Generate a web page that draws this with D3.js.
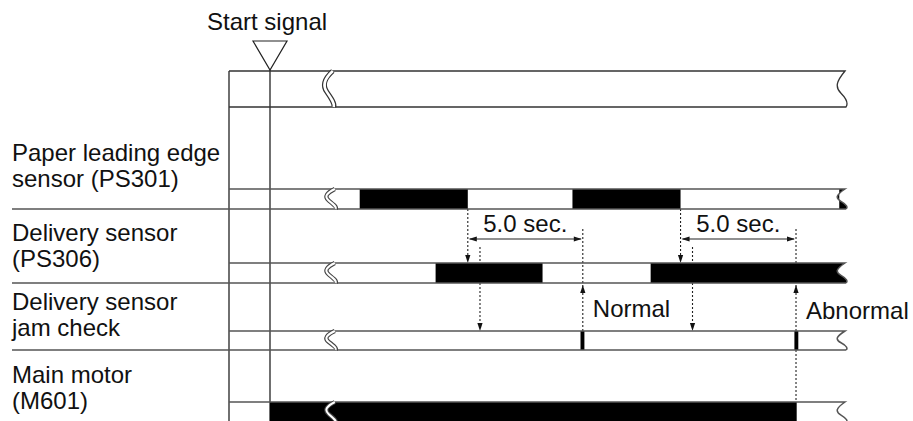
<!DOCTYPE html>
<html><head><meta charset="utf-8">
<script src="https://cdn.jsdelivr.net/npm/d3@7"></script>
<style>body{margin:0;background:#fff}svg{display:block}text{font-family:"Liberation Sans",Arial,Helvetica,sans-serif;fill:#111}</style>
</head><body>
<script>
// ---- data (time in seconds from start signal) ----
const signalLabels = [
  ["Paper leading edge", "sensor (PS301)"],
  ["Delivery sensor", "(PS306)"],
  ["Delivery sensor", "jam check"],
  ["Main motor", "(M601)"]
];
const ps301On = [[3.9, 8.6], [13.15, 17.85], [24.75, 25]];
const ps306On = [[7.2, 11.85], [16.55, 25]];
const jamPulse = [[13.5, 13.67], [22.8, 22.97]];
const motorOn = [[0, 22.9]];
const checkFrom = [8.6, 17.85];      // PS301 trailing edge
const checkStart = [9.13, 18.37];    // jam check begins
const checkLimit = [13.6, 22.87];    // 5.0 s later
const checkResult = ["Normal", "Abnormal"];
const dimLabel = "5.0 sec.";
const breakTime = 2.6;
const timeDomain = [0, 25];

// ---- layout ----
const W = 913, H = 421, FS = 24;
const svg = d3.select("body").append("svg").attr("width", W).attr("height", H);
const x = d3.scaleLinear().domain(timeDomain).range([270, 845]);
const xEnd = x(timeDomain[1]);
const xLeft = 229;
const rows = [
  {y0: 189, y1: 209, on: ps301On},
  {y0: 263, y1: 283, on: ps306On},
  {y0: 331, y1: 350, on: jamPulse},
  {y0: 402, y1: 423, on: motorOn}
];
const lineCol = "#555";

function endCurve(xe, y0, y1) {
  const h = y1 - y0;
  return `C${xe-9},${y0+0.3*h} ${xe-10},${y0+0.45*h} ${xe-4},${y0+0.62*h} S${xe+3},${y1-0.08*h} ${xe+1},${y1}`;
}
function breakPath(xb, y0, y1) {
  const h = y1 - y0;
  return `M${xb+5},${y0} C${xb-3},${y0+0.2*h} ${xb-6},${y0+0.38*h} ${xb-1},${y0+0.58*h} S${xb+7},${y1-0.1*h} ${xb+6},${y1}`;
}

// vertical frame lines
svg.append("line").attr("x1", xLeft).attr("x2", xLeft).attr("y1", 71).attr("y2", H)
  .attr("stroke", "#222").attr("stroke-width", 1.3);
svg.append("line").attr("x1", x(0)).attr("x2", x(0)).attr("y1", 70).attr("y2", H)
  .attr("stroke", "#222").attr("stroke-width", 1.3);

// start signal row
const topY0 = 71, topY1 = 107;
svg.append("path")
  .attr("d", `M${xLeft},${topY0} L${xEnd},${topY0} ${endCurve(xEnd, topY0, topY1)} L${xLeft},${topY1}`)
  .attr("fill", "none").attr("stroke", "#333").attr("stroke-width", 1.3);
svg.append("path").attr("d", breakPath(x(breakTime) - 2, topY0, topY1))
  .attr("fill", "none").attr("stroke", "#333").attr("stroke-width", 5);
svg.append("path").attr("d", breakPath(x(breakTime) - 2, topY0, topY1))
  .attr("fill", "none").attr("stroke", "#fff").attr("stroke-width", 2.6);
// triangle
const tx = x(0);
svg.append("path").attr("d", `M${tx-17},41 L${tx+17},41 L${tx},70 Z`)
  .attr("fill", "#fff").attr("stroke", "#222").attr("stroke-width", 1.2);
svg.append("text").attr("x", 207).attr("y", 30).attr("font-size", FS).text("Start signal");

// dotted lines and arrows (drawn under bars)
const dot = svg.append("g").attr("stroke", "#222").attr("stroke-width", 1.1).attr("stroke-dasharray", "2,2").attr("fill", "none");
const arr = svg.append("g").attr("fill", "#111");
function arrowDown(xx, ytip) { arr.append("path").attr("d", `M${xx},${ytip} L${xx-2.6},${ytip-8} L${xx+2.6},${ytip-8} Z`); }
function arrowUp(xx, ytip) { arr.append("path").attr("d", `M${xx},${ytip} L${xx-2.6},${ytip+8} L${xx+2.6},${ytip+8} Z`); }
function arrowLeft(xx, y) { arr.append("path").attr("d", `M${xx},${y} L${xx+8},${y-2.6} L${xx+8},${y+2.6} Z`); }
function arrowRight(xx, y) { arr.append("path").attr("d", `M${xx},${y} L${xx-8},${y-2.6} L${xx-8},${y+2.6} Z`); }

const dimY = 239;
checkFrom.forEach((t, i) => {
  const xa = x(t), xs = x(checkStart[i]), xl = x(checkLimit[i]);
  dot.append("line").attr("x1", xa).attr("x2", xa).attr("y1", rows[0].y1).attr("y2", rows[1].y0 - 4);
  arrowDown(xa, rows[1].y0);
  dot.append("line").attr("x1", xs).attr("x2", xs).attr("y1", 247).attr("y2", rows[2].y0 - 4);
  arrowDown(xs, rows[2].y0);
  dot.append("line").attr("x1", xl).attr("x2", xl).attr("y1", 229).attr("y2", rows[2].y0);
  arrowUp(xl, rows[1].y1 + 2);
  svg.append("line").attr("x1", xa + 2).attr("x2", xl - 2).attr("y1", dimY).attr("y2", dimY)
    .attr("stroke", "#222").attr("stroke-width", 1.1);
  arrowLeft(xa + 1, dimY); arrowRight(xl - 1, dimY);
  svg.append("text").attr("x", (xa + xl) / 2).attr("y", 232).attr("text-anchor", "middle")
    .attr("font-size", FS).text(dimLabel);
  svg.append("text").attr("x", xl + 10).attr("y", 317 + i * 2).attr("font-size", FS).text(checkResult[i]);
});
{
  const xl = x(checkLimit[1]);
  dot.append("line").attr("x1", xl).attr("x2", xl).attr("y1", rows[2].y1).attr("y2", rows[3].y0);
}

// signal rows
rows.forEach((r, i) => {
  r.on.forEach(([a, b]) => {
    const xa = x(a), xb = x(b);
    const d = (b >= timeDomain[1])
      ? `M${xa},${r.y0} L${xEnd},${r.y0} ${endCurve(xEnd, r.y0, r.y1)} L${xa},${r.y1} Z`
      : `M${xa},${r.y0} L${xb},${r.y0} L${xb},${r.y1} L${xa},${r.y1} Z`;
    svg.append("path").attr("d", d).attr("fill", "#000");
  });
  svg.append("path")
    .attr("d", `M${xLeft},${r.y0} L${xEnd},${r.y0} ${endCurve(xEnd, r.y0, r.y1)}`)
    .attr("fill", "none").attr("stroke", lineCol).attr("stroke-width", 1.5);
  svg.append("line").attr("x1", 12).attr("x2", xEnd + 1).attr("y1", r.y1).attr("y2", r.y1)
    .attr("stroke", lineCol).attr("stroke-width", 1.6);
  const bp = breakPath(x(breakTime), r.y0, r.y1);
  svg.append("path").attr("d", bp).attr("fill", "none").attr("stroke", "#444").attr("stroke-width", 4.2);
  svg.append("path").attr("d", bp).attr("fill", "none").attr("stroke", "#fff").attr("stroke-width", 2);
  const labY = [161, 241, 310, 383][i];
  signalLabels[i].forEach((s, k) => {
    svg.append("text").attr("x", 12).attr("y", labY + k * 25.5).attr("font-size", FS).text(s);
  });
});
</script>
</body></html>
